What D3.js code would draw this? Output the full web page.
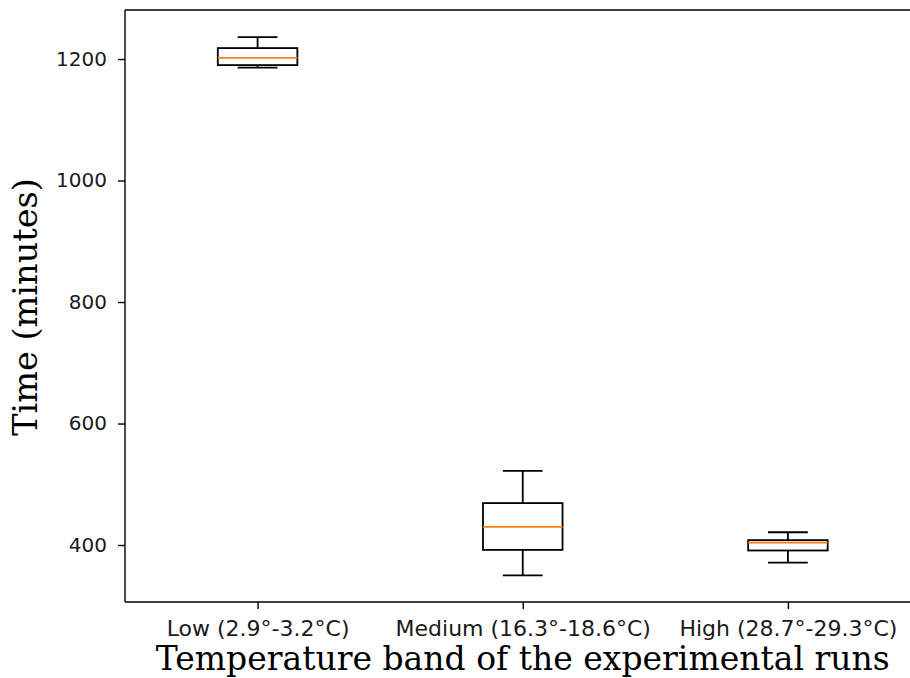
<!DOCTYPE html>
<html>
<head>
<meta charset="utf-8">
<script src="https://cdn.jsdelivr.net/npm/d3@7"></script>
<style>
  body { margin: 0; background: #fff; }
  svg { display: block; }
</style>
</head>
<body>
<svg id="chart" width="910" height="678"></svg>
<script>
const categories = ["Low (2.9°-3.2°C)", "Medium (16.3°-18.6°C)", "High (28.7°-29.3°C)"];
const whiskerLow  = [1186, 350, 371];
const q1          = [1190, 392, 391];
const medians     = [1202, 430, 404];
const q3          = [1218, 469, 408];
const whiskerHigh = [1236, 522, 421];
const yTicks = [400, 600, 800, 1000, 1200];
const xTitle = "Temperature band of the experimental runs";
const yTitle = "Time (minutes)";

(function () {
const svg = d3.select("#chart");
const pLeft = 125, pRight = 920.5, pTop = 10, pBottom = 602;

const x = d3.scaleLinear().domain([0.5, 3.5]).range([pLeft, pRight]);
const y = d3.scaleLinear().domain([306.2, 1280.7]).range([pBottom, pTop]);

const data = categories.map((c, i) => ({
  c, pos: i + 1, lo: whiskerLow[i], q1: q1[i], med: medians[i], q3: q3[i], hi: whiskerHigh[i]
}));

const boxW = 0.3, capW = 0.15;
const sw = 1.8;

const g = svg.append("g");
data.forEach(d => {
  const gg = g.append("g");
  gg.append("line").attr("x1", x(d.pos)).attr("x2", x(d.pos))
    .attr("y1", y(d.q3)).attr("y2", y(d.hi)).attr("stroke", "#000").attr("stroke-width", sw);
  gg.append("line").attr("x1", x(d.pos)).attr("x2", x(d.pos))
    .attr("y1", y(d.q1)).attr("y2", y(d.lo)).attr("stroke", "#000").attr("stroke-width", sw);
  gg.append("line").attr("x1", x(d.pos - capW / 2)).attr("x2", x(d.pos + capW / 2))
    .attr("y1", y(d.hi)).attr("y2", y(d.hi)).attr("stroke", "#000").attr("stroke-width", sw);
  gg.append("line").attr("x1", x(d.pos - capW / 2)).attr("x2", x(d.pos + capW / 2))
    .attr("y1", y(d.lo)).attr("y2", y(d.lo)).attr("stroke", "#000").attr("stroke-width", sw);
  gg.append("rect").attr("x", x(d.pos - boxW / 2)).attr("width", x(d.pos + boxW / 2) - x(d.pos - boxW / 2))
    .attr("y", y(d.q3)).attr("height", y(d.q1) - y(d.q3))
    .attr("fill", "none").attr("stroke", "#000").attr("stroke-width", sw);
  gg.append("line").attr("x1", x(d.pos - boxW / 2)).attr("x2", x(d.pos + boxW / 2))
    .attr("y1", y(d.med)).attr("y2", y(d.med)).attr("stroke", "#ff7f0e").attr("stroke-width", sw);
});

svg.append("line").attr("x1", pLeft).attr("x2", pRight).attr("y1", pTop).attr("y2", pTop)
  .attr("stroke", "#000").attr("stroke-width", 1.4);
svg.append("line").attr("x1", pLeft).attr("x2", pRight).attr("y1", pBottom).attr("y2", pBottom)
  .attr("stroke", "#000").attr("stroke-width", 1.4);
svg.append("line").attr("x1", pLeft).attr("x2", pLeft).attr("y1", pTop).attr("y2", pBottom)
  .attr("stroke", "#000").attr("stroke-width", 1.4);

const yAxis = d3.axisLeft(y).tickValues(yTicks).tickSize(7).tickPadding(11).tickFormat(d3.format("d"));
const ya = svg.append("g").attr("transform", `translate(${pLeft},0)`).call(yAxis);
ya.select(".domain").remove();
ya.selectAll("line").attr("stroke", "#000").attr("stroke-width", 1.4);
ya.selectAll("text").attr("font-family", "DejaVu Sans").attr("font-size", 20).attr("fill", "#1a1a1a");

const xAxis = d3.axisBottom(x).tickValues([1, 2, 3]).tickSize(7).tickPadding(11)
  .tickFormat(v => categories[v - 1]);
const xa = svg.append("g").attr("transform", `translate(0,${pBottom})`).call(xAxis);
xa.select(".domain").remove();
xa.selectAll("line").attr("stroke", "#000").attr("stroke-width", 1.4);
xa.selectAll("text").attr("font-family", "DejaVu Sans").attr("font-size", 22).attr("fill", "#1a1a1a");

svg.append("text").attr("x", x(2)).attr("y", 670).attr("text-anchor", "middle")
  .attr("font-family", "DejaVu Serif").attr("font-size", 33).attr("fill", "#000").text(xTitle);
svg.append("text").attr("transform", `translate(37,307) rotate(-90)`)
  .attr("text-anchor", "middle")
  .attr("font-family", "DejaVu Serif").attr("font-size", 33.5).attr("fill", "#000").text(yTitle);
})();
</script>
</body>
</html>
